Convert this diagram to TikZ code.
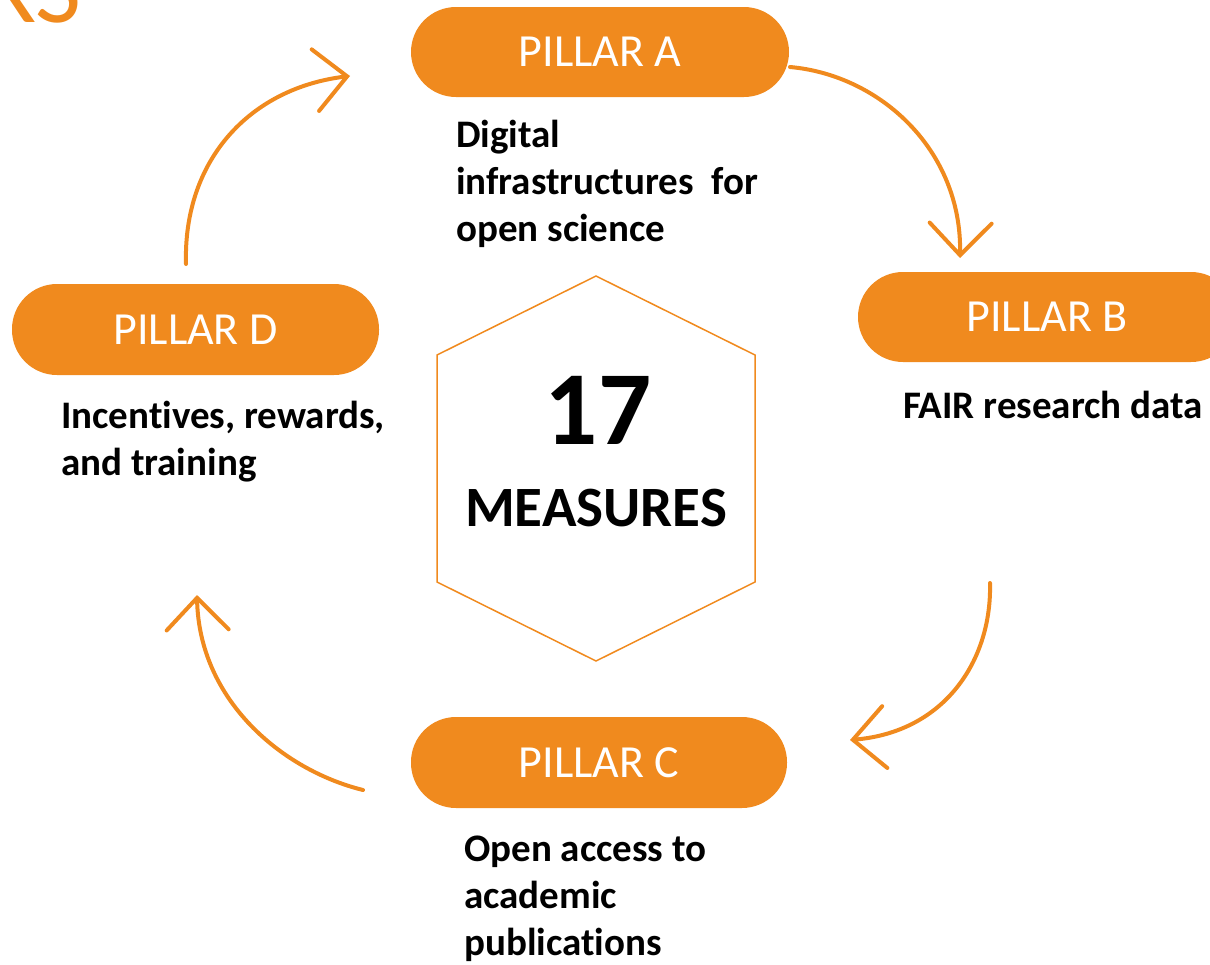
\documentclass[tikz,border=0pt]{standalone}
\usepackage{fontspec}
\setmainfont{Carlito}[Ligatures=NoCommon]
\usetikzlibrary{arrows.meta}
\definecolor{pillorange}{RGB}{240,138,30}
\begin{document}
\begin{tikzpicture}[x=1pt,y=-1pt,
  pill/.style={fill=pillorange, rounded corners=45pt, minimum width=378pt, minimum height=90pt, inner sep=0pt, text=white, font=\fontsize{46}{55}\selectfont},
  desc/.style={anchor=base west, inner sep=0pt, font=\bfseries\fontsize{39}{47}\selectfont},
  loop/.style={draw=pillorange, line width=4pt, line cap=round, -{Straight Barb[length=32pt,width=62pt,line cap=round]}},
  hexline/.style={draw=pillorange, line width=1.5pt},
]
\useasboundingbox (0,0) rectangle (1210,964);

% partial title at top-left (cut off by the page edge, as in the reference)
\node[anchor=base east, inner sep=0pt, text=pillorange, font=\fontsize{100}{110}\selectfont] (title) at (82,22) {RS};

% pillars
\node[pill] (pa) at (600,52) {PILLAR A};
\node[pill] (pb) at (1047,317) {PILLAR B};
\node[pill, minimum width=376pt, minimum height=91pt] (pc) at (599,762.5) {PILLAR C};
\node[pill, minimum width=367pt, minimum height=91pt] (pd) at (195.5,329.5) {PILLAR D};

% descriptions
\node[desc] (da) at (456,147) {\begin{tabular}[t]{@{}l@{}}Digital\\infrastructures\ \ for\\open science\end{tabular}};
\node[desc] (db) at (903,418) {FAIR research data};
\node[desc] (dc) at (464,861) {\begin{tabular}[t]{@{}l@{}}Open access to\\academic\\publications\end{tabular}};
\node[desc] (dd) at (61,428) {\begin{tabular}[t]{@{}l@{}}Incentives, rewards,\\and training\end{tabular}};

% central hexagon
\draw[hexline] (596,276) -- (755,355) -- (755,582) -- (596,661) -- (437,582) -- (437,355) -- cycle;
\node[inner sep=0pt, font=\bfseries\fontsize{105}{110}\selectfont] (num) at (598,410) {17};
\node[inner sep=0pt, font=\bfseries\fontsize{57}{64}\selectfont] (meas) at (596,508.5) {MEASURES};

% cycle arrows
\coordinate (a1s) at (790,67);   \coordinate (a1e) at (960,258);
\coordinate (a2s) at (990,583);  \coordinate (a2e) at (850,740);
\coordinate (a3s) at (363,790);  \coordinate (a3e) at (197,595);
\coordinate (a4s) at (186,264);  \coordinate (a4e) at (350,76);
\draw[loop] (a1s) .. controls (880,75) and (962,150) .. (a1e);
\draw[loop] (a2s) .. controls (992,660) and (945,732) .. (a2e);
\draw[loop] (a3s) .. controls (282,770) and (199,700) .. (a3e);
\draw[loop] (a4s) .. controls (183,160) and (250,88) .. (a4e);
\end{tikzpicture}
\end{document}
